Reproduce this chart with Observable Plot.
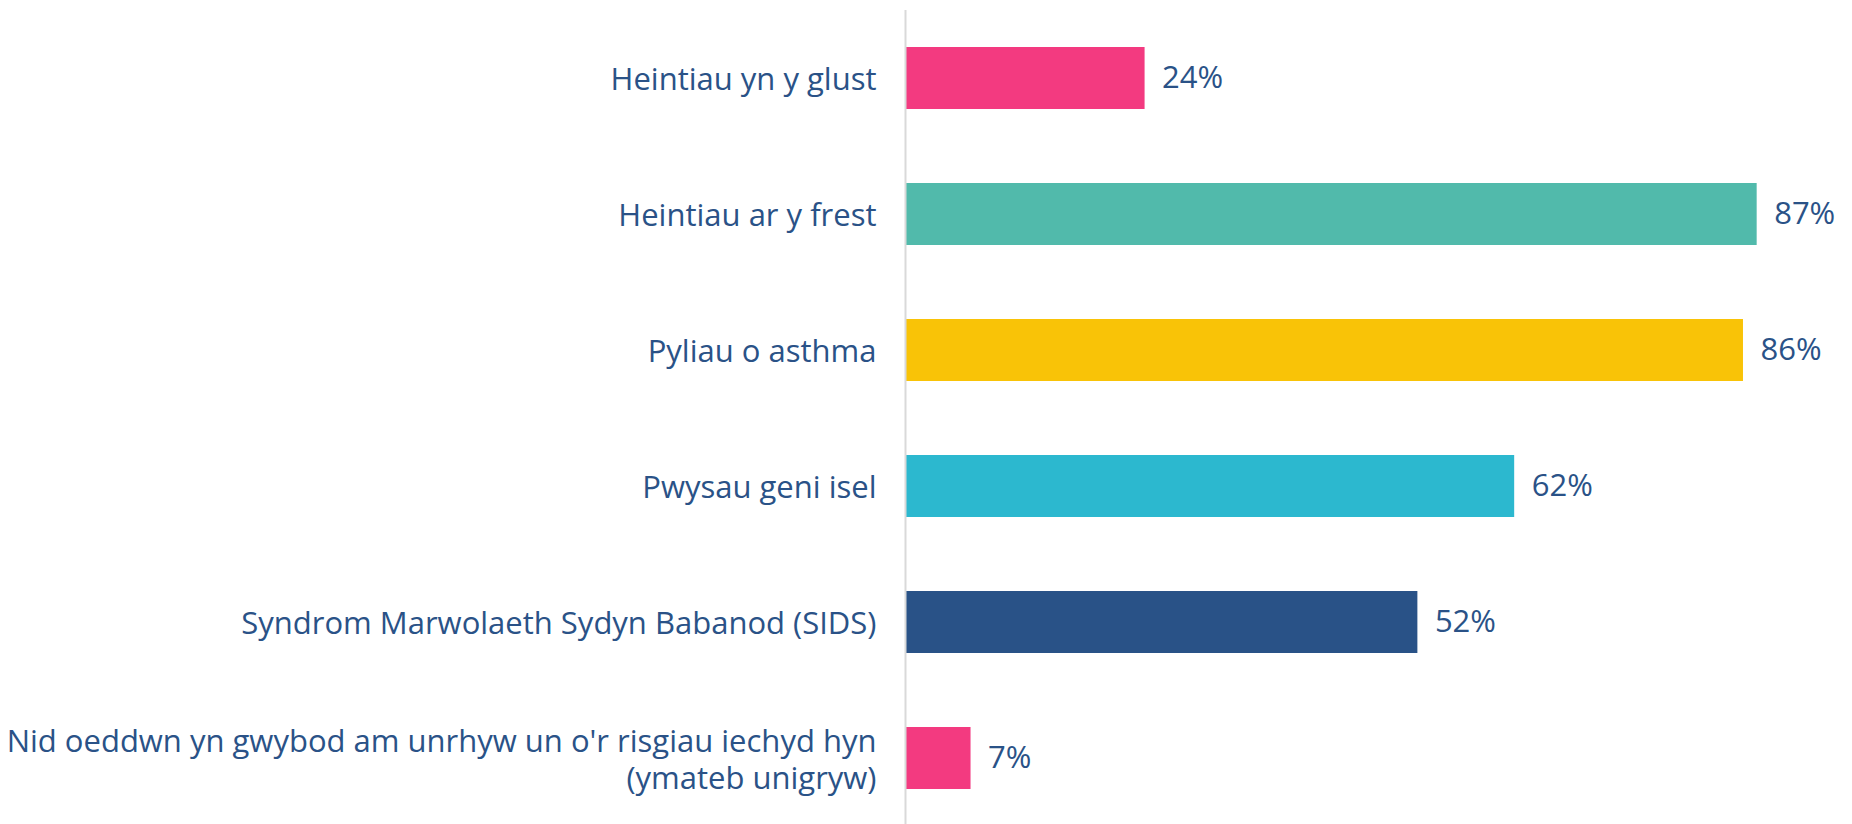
<!DOCTYPE html>
<html>
<head>
<meta charset="utf-8">
<script src="https://cdn.jsdelivr.net/npm/d3@7"></script>
<script src="https://cdn.jsdelivr.net/npm/@observablehq/plot@0.6"></script>
<style>
  html, body { margin: 0; padding: 0; background: #ffffff; }
  #chart svg { display: block; }
</style>
</head>
<body>
<div id="chart"></div>
<script>
const categories = [
  "Heintiau yn y glust",
  "Heintiau ar y frest",
  "Pyliau o asthma",
  "Pwysau geni isel",
  "Syndrom Marwolaeth Sydyn Babanod (SIDS)",
  "Nid oeddwn yn gwybod am unrhyw un o'r risgiau iechyd hyn\n(ymateb unigryw)"
];
const values = [24.4, 87, 85.6, 62.2, 52.3, 6.6];
const labels = ["24%", "87%", "86%", "62%", "52%", "7%"];
const colors = ["#F33A80", "#51BAAB", "#F9C307", "#2CB8CF", "#295287", "#F33A80"];

const data = categories.map((c, i) => ({cat: c, value: values[i], label: labels[i], color: colors[i]}));
const textColor = "#2A5287";
const font = "'Open Sans', sans-serif";

const chart = Plot.plot({
  width: 1852,
  height: 824,
  marginLeft: 906,
  marginRight: 66,
  marginTop: 10,
  marginBottom: 0,
  style: {fontFamily: font, background: "#ffffff"},
  x: {domain: [0, 90], axis: null},
  y: {domain: categories, range: [10, 826], paddingInner: 0.544, paddingOuter: 0.272, label: null},
  marks: [
    Plot.barX(data, {x: "value", y: "cat", fill: "color"}),
    Plot.ruleX([0], {stroke: "#d9d9d9", strokeWidth: 2, dx: -1}),
    Plot.text(data, {x: "value", y: "cat", text: "label", textAnchor: "start", dx: 17, fill: textColor, fontSize: 31}),
    Plot.axisY({tickSize: 0, tickPadding: 30, fontSize: 31, lineHeight: 1.2, color: textColor, label: null})
  ]
});
document.getElementById("chart").appendChild(chart);
</script>
</body>
</html>
